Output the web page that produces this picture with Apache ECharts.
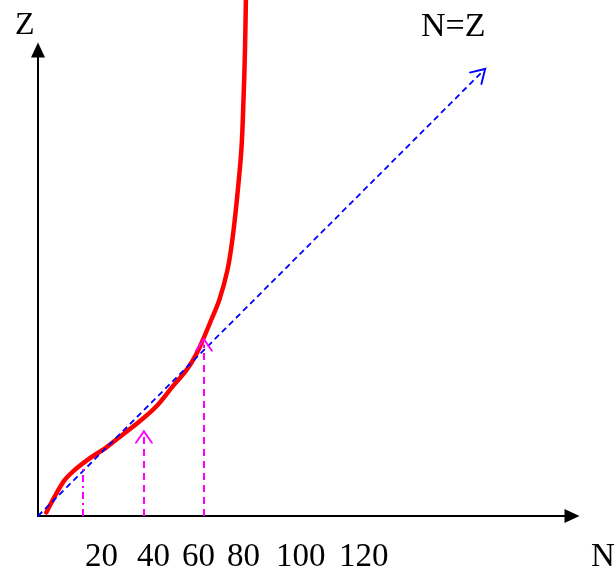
<!DOCTYPE html>
<html>
<head>
<meta charset="utf-8">
<title>N-Z</title>
<script src="https://cdn.jsdelivr.net/npm/echarts@6/dist/echarts.min.js"></script>
<style>
  html, body { margin: 0; padding: 0; background: #fff; }
  #chart { width: 616px; height: 567px; }
</style>
</head>
<body>
<div id="chart"></div>
<script>
// red curve (same unit on both axes)
const curveN = [2.8, 3.8, 8.3, 11.6, 17.2, 22.7, 28.3, 33.8, 39.4, 44.9, 49.6, 52.7, 55.0, 57.8, 60.5, 63.2, 64.8, 66.3, 67.8, 68.5, 69.0, 69.3]
const curveZ = [1.2, 3.2, 11.2, 14.8, 19.2, 22.8, 27.2, 31.5, 36.5, 43.2, 48.8, 53.8, 58.8, 65.5, 72.2, 82.2, 92.2, 105.5, 122.2, 138.8, 155.5, 172.2]

// N=Z diagonal end (arrow tip)
const diagEnd = 149.5

// magenta guide lines: N position and top
const guideN = [15, 35.3, 55.3]
const guideTop = [16.2, 28.8, 59.5]
const guideArrow = [false, true, true]

const tickLabels = ['20', '40', '60', '80', '100', '120']

const font = 'Liberation Serif'
const pxPerUnit = 3

// open arrow head (thin chevron), tip at the top of the box
const chevron = 'path://M90 0 L180 150 L180 160 L164 160 L90 38 L16 160 L0 160 L0 150 Z'

let chart = echarts.init(document.getElementById('chart'))

// line end is pulled back by half the head so the tip lands on the value
function headEnd(x, y, dx, dy, headLen) {
  let len = Math.sqrt(dx * dx + dy * dy)
  let back = headLen / 2 / pxPerUnit
  return [x - dx / len * back, y - dy / len * back]
}

let diagLine = [
  { coord: [0, 0] },
  { coord: headEnd(diagEnd, diagEnd, 1, 1, 16), symbol: chevron, symbolSize: [18, 16] },
]

let guideLines = guideN.map((n, i) => {
  let end = guideArrow[i]
    ? { coord: headEnd(n, guideTop[i], 0, 1, 14), symbol: chevron, symbolSize: [18, 14] }
    : { coord: [n, guideTop[i]] }
  return [{ coord: [n, 0] }, end]
})

function txt(text, left, top, size) {
  return {
    type: 'text', left: left, top: top,
    style: { text: text, fontFamily: font, fontSize: size, fill: '#000' },
  }
}

let labelLeft = [85, 137, 182, 227, 276, 339]
let texts = tickLabels.map((t, i) => txt(t, labelLeft[i], 541, 33))
texts.push(
  txt('N', 591, 541, 33),
  txt('Z', 15, 10, 32),
  txt('N=Z', 421, 10, 34),
)

let axisLine = {
  show: true,
  onZero: false,
  symbol: ['none', 'triangle'],
  symbolSize: [14, 15],
  lineStyle: { color: '#000', width: 2 },
}

let option = {
  animation: false,
  grid: { left: 38, right: 44, top: 50, bottom: 51 },
  xAxis: {
    type: 'value', min: 0, max: 534 / pxPerUnit,
    axisLine: axisLine,
    axisTick: { show: false }, axisLabel: { show: false }, splitLine: { show: false },
  },
  yAxis: {
    type: 'value', min: 0, max: 466 / pxPerUnit,
    axisLine: axisLine,
    axisTick: { show: false }, axisLabel: { show: false }, splitLine: { show: false },
  },
  graphic: texts,
  series: [
    {
      type: 'line',
      data: [],
      silent: true,
      markLine: {
        silent: true,
        symbol: ['none', 'none'],
        label: { show: false },
        emphasis: { disabled: true },
        lineStyle: { color: '#0000ff', width: 1.8, type: [6, 4] },
        data: [diagLine],
      },
    },
    {
      type: 'line',
      data: [],
      silent: true,
      markLine: {
        silent: true,
        symbol: ['none', 'none'],
        label: { show: false },
        emphasis: { disabled: true },
        lineStyle: { color: '#ff00ff', width: 2, type: [7, 5] },
        data: guideLines.map((l, i) => i === 0
          ? [{ ...l[0], lineStyle: { type: [7, 4, 2, 4] } }, l[1]]
          : l),
      },
    },
    {
      type: 'line',
      data: curveN.map((n, i) => [n, curveZ[i]]),
      smooth: 0.35,
      clip: false,
      showSymbol: false,
      symbol: 'none',
      silent: true,
      lineStyle: { color: '#ff0000', width: 4.5, cap: 'round' },
    },
  ],
}

chart.setOption(option)
</script>
</body>
</html>
